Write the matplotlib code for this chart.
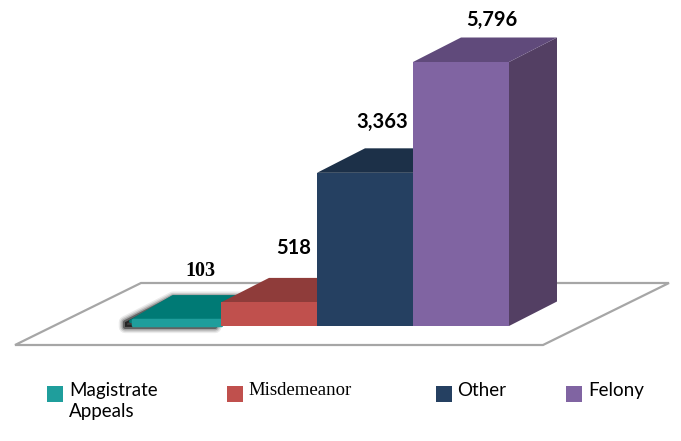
import matplotlib
matplotlib.use("Agg")
import matplotlib.pyplot as plt
from matplotlib.patches import Polygon, Rectangle

categories = ["Magistrate\nAppeals", "Misdemeanor", "Other", "Felony"]
values = [103, 518, 3363, 5796]
labels = ["103", "518", "3,363", "5,796"]
front = ["#1F9E9C", "#C0504D", "#254061", "#8064A2"]
top = ["#007A75", "#8F3C3A", "#1C3048", "#604A7B"]
side = ["#006560", "#7A3331", "#182A40", "#533F63"]

W, H = 681, 441
px_per_unit = 264 / 5796
x0, base = 125, 326
bar_w = 96
dx = 48 / bar_w
dy = 24.5 / px_per_unit

fig = plt.figure(figsize=(W / 100, H / 100), dpi=100)
ax = fig.add_axes([0, 0, 1, 1])
ax.set_xlim(-x0 / bar_w, (W - x0) / bar_w)
ax.set_ylim(-(H - base) / px_per_unit, base / px_per_unit)
ax.axis("off")


def xp(p):
    return (p - x0) / bar_w


def yp(p):
    return (base - p) / px_per_unit


# floor
floor = [(xp(15), yp(345)), (xp(543), yp(345)), (xp(669), yp(283)), (xp(141), yp(283))]
ax.add_patch(Polygon(floor, closed=True, fc="white", ec="#A6A6A6", lw=1.6, zorder=1))

# first bar is nearly flat, rounded with a soft dark shadow
v = values[0]
outline = [(0.06, 0), (1, 0), (1, v), (1 + dx, v + dy), (dx + 0.06, v + dy), (0.06, v)]
for lw, a in [(9, 0.08), (7, 0.12), (5, 0.2), (3, 0.4)]:
    shadow = [(px - 0.06, py - 20) for px, py in outline]
    ax.add_patch(Polygon(shadow, closed=True, fc="black", ec="black", lw=lw, alpha=a,
                         joinstyle="round", zorder=2))
ax.add_patch(Polygon([(0.06, v), (1, v), (1 + dx, v + dy), (0.5, v + dy)], closed=True,
                     fc=top[0], ec=top[0], lw=2.5, joinstyle="round", zorder=3))
ax.add_patch(Polygon([(0.08, 15), (1, 15), (1, v + 20), (0.08, v + 20)], closed=True,
                     fc=front[0], ec=front[0], lw=2.5, joinstyle="round", zorder=3))

# remaining bars, each one covers the side of the one before
for i in range(1, 4):
    v = values[i]
    z = 3 + i
    ax.add_patch(Polygon([(i + 1, 0), (i + 1 + dx, dy), (i + 1 + dx, v + dy), (i + 1, v)],
                         closed=True, fc=side[i], ec="none", zorder=z))
    ax.add_patch(Polygon([(i, v), (i + 1, v), (i + 1 + dx, v + dy), (i + dx, v + dy)],
                         closed=True, fc=top[i], ec="none", zorder=z))
    ax.bar(i, v, width=1, align="edge", color=front[i], zorder=z)

# value labels
label_pos = [(200, 271), (294, 248), (382, 122), (492, 20)]
label_font = ["Liberation Serif", "Lato", "Lato", "Lato"]
for t, (px, py), fam in zip(labels, label_pos, label_font):
    ax.text(xp(px), yp(py), t, ha="center", va="center", fontsize=14.5,
            fontweight="bold", family=fam, color="black", zorder=10)

# legend
swatch_x = [47, 227, 436, 566]
text_x = [69, 248, 457, 588]
legend_font = ["Lato", "Liberation Serif", "Lato", "Lato"]
for i, name in enumerate(categories):
    ax.add_patch(Rectangle((xp(swatch_x[i]), yp(402)), 16 / bar_w, 16 / px_per_unit,
                           fc=front[i], ec="none", zorder=5))
    ax.text(xp(text_x[i]), yp(382), name, ha="left", va="top", fontsize=13.5,
            family=legend_font[i], color="black", linespacing=1.25)

fig.savefig("out.png", dpi=100)
